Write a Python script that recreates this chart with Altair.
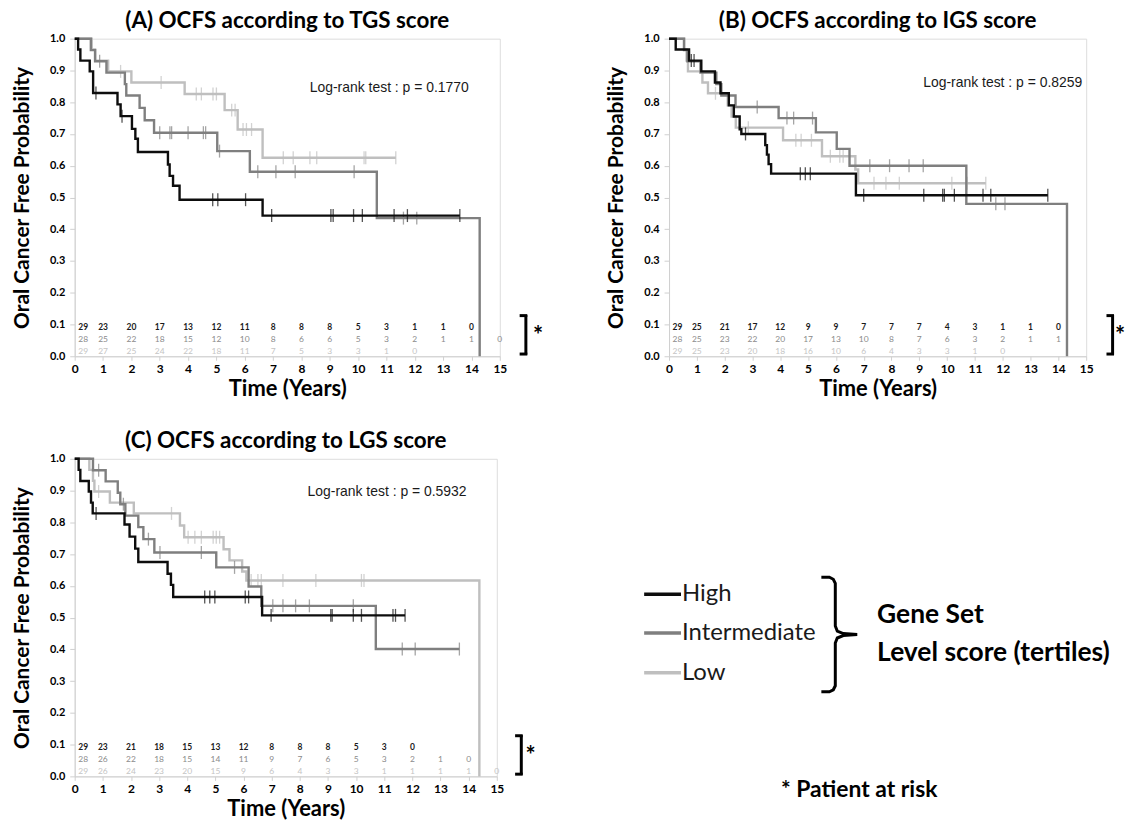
import altair as alt
import pandas as pd

# ---------------- data ----------------
GROUPS = ["High", "Intermediate", "Low"]
LINE_COLORS = ["#0d0d0d", "#7f7f7f", "#bfbfbf"]
RISK_COLORS = ["#1a1a1a", "#8a8a8a", "#c4c4c4"]

TITLES = ["(A) OCFS according to TGS score", "(B) OCFS according to IGS score", "(C) OCFS according to LGS score"]
PVALUES = ["0.1770", "0.8259", "0.5932"]

# Panel A (TGS): event times / survival after event / last follow-up / censor times
A_HIGH_T = [0, 0.12, 0.2, 0.53, 0.65, 1.51, 1.62, 2.02, 2.14, 2.23, 3.29, 3.35, 3.47, 3.70, 6.63]
A_HIGH_S = [1.0, 0.966, 0.931, 0.897, 0.829, 0.793, 0.756, 0.716, 0.685, 0.643, 0.604, 0.568, 0.537, 0.493, 0.443]
A_HIGH_END = 13.59
A_HIGH_C = [0.75, 1.67, 4.87, 5.05, 6.03, 6.95, 9.04, 9.12, 9.84, 10.15, 11.27, 11.74, 13.59]

A_MID_T = [0, 0.57, 0.72, 1.12, 1.77, 1.82, 2.29, 2.47, 2.80, 5.03, 6.18, 10.66, 14.29]
A_MID_S = [1.0, 0.964, 0.929, 0.893, 0.857, 0.821, 0.782, 0.743, 0.704, 0.646, 0.581, 0.435, 0.0]
A_MID_END = None
A_MID_C = [0.88, 3.0, 3.36, 3.42, 4.0, 4.54, 4.62, 5.11, 6.46, 7.1, 7.78, 9.86, 11.6, 12.07]

A_LOW_T = [0, 0.6, 0.72, 1.18, 2.0, 3.88, 5.29, 5.75, 6.63]
A_LOW_S = [1.0, 0.966, 0.931, 0.897, 0.862, 0.826, 0.775, 0.714, 0.625]
A_LOW_END = 11.33
A_LOW_C = [1.62, 3.05, 4.29, 4.47, 4.88, 5.0, 5.54, 5.66, 5.94, 6.06, 6.24, 7.36, 7.71, 8.3, 8.54, 10.21, 10.27, 11.33]

# Panel B (IGS)
B_HIGH_T = [0, 0.24, 0.72, 1.16, 1.65, 1.85, 2.15, 2.33, 2.54, 2.6, 3.46, 3.52, 3.58, 3.67, 6.72]
B_HIGH_S = [1.0, 0.966, 0.931, 0.897, 0.862, 0.828, 0.79, 0.755, 0.715, 0.70, 0.665, 0.635, 0.605, 0.575, 0.507]
B_HIGH_END = 13.62
B_HIGH_C = [0.8, 0.9, 2.75, 4.72, 4.9, 5.08, 7.0, 9.16, 9.84, 9.9, 10.26, 11.29, 11.57, 13.62]

B_MID_T = [0, 0.54, 0.66, 1.13, 1.70, 1.88, 2.39, 3.94, 5.28, 6.03, 6.49, 10.69, 14.31]
B_MID_S = [1.0, 0.964, 0.929, 0.893, 0.857, 0.821, 0.785, 0.75, 0.705, 0.653, 0.60, 0.48, 0.0]
B_MID_END = None
B_MID_C = [3.17, 4.24, 4.48, 5.16, 7.22, 7.93, 8.63, 9.14, 11.75, 12.08]

B_LOW_T = [0, 0.54, 0.63, 0.68, 1.2, 1.4, 2.11, 2.25, 2.4, 4.1, 5.5, 6.7, 6.8]
B_LOW_S = [1.0, 0.966, 0.931, 0.897, 0.862, 0.828, 0.79, 0.755, 0.72, 0.68, 0.63, 0.588, 0.545]
B_LOW_END = 11.39
B_LOW_C = [1.67, 2.85, 4.56, 4.75, 5.12, 5.8, 6.14, 6.26, 7.37, 7.8, 8.28, 10.17, 10.72, 11.39]

# Panel C (LGS)
C_HIGH_T = [0, 0.14, 0.2, 0.5, 0.58, 0.64, 1.77, 1.95, 2.15, 2.26, 3.3, 3.42, 3.5, 6.66]
C_HIGH_S = [1.0, 0.965, 0.93, 0.897, 0.862, 0.828, 0.793, 0.755, 0.717, 0.675, 0.638, 0.603, 0.565, 0.507]
C_HIGH_END = 11.74
C_HIGH_C = [0.76, 4.62, 4.8, 4.98, 6.06, 6.18, 6.98, 9.1, 9.15, 9.9, 10.19, 11.31, 11.4, 11.74]

C_MID_T = [0, 0.65, 1.1, 1.53, 1.62, 1.8, 2.26, 2.44, 2.83, 5.03, 6.18, 6.63, 10.7]
C_MID_S = [1.0, 0.964, 0.929, 0.893, 0.857, 0.821, 0.785, 0.747, 0.705, 0.658, 0.598, 0.537, 0.401]
C_MID_END = 13.67
C_MID_C = [0.85, 1.73, 2.62, 3.03, 4.5, 5.68, 7.04, 7.4, 7.85, 8.34, 9.9, 11.64, 12.1, 13.67]

C_LOW_T = [0, 0.52, 0.65, 0.7, 1.25, 2.1, 3.74, 3.89, 5.29, 5.5, 5.95, 6.1, 14.38]
C_LOW_S = [1.0, 0.965, 0.931, 0.897, 0.862, 0.828, 0.79, 0.753, 0.715, 0.68, 0.645, 0.617, 0.0]
C_LOW_END = None
C_LOW_C = [0.85, 3.44, 4.03, 4.27, 4.5, 4.92, 5.03, 5.15, 6.27, 6.51, 6.63, 7.4, 8.57, 10.19, 10.28]

# Patients at risk at years 0, 1, 2, ...
A_RISK = [[29, 23, 20, 17, 13, 12, 11, 8, 8, 8, 5, 3, 1, 1, 0],
          [28, 25, 22, 18, 15, 12, 10, 8, 6, 6, 5, 3, 2, 1, 1, 0],
          [29, 27, 25, 24, 22, 18, 11, 7, 5, 3, 3, 1, 0]]
B_RISK = [[29, 25, 21, 17, 12, 9, 9, 7, 7, 7, 4, 3, 1, 1, 0],
          [28, 25, 23, 22, 20, 17, 13, 10, 8, 7, 6, 3, 2, 1, 1],
          [29, 25, 23, 20, 18, 16, 10, 6, 4, 3, 3, 1, 0]]
C_RISK = [[29, 23, 21, 18, 15, 13, 12, 8, 8, 8, 5, 3, 0],
          [28, 26, 22, 18, 15, 14, 11, 9, 7, 6, 5, 3, 2, 1, 0],
          [29, 26, 24, 23, 20, 15, 9, 6, 4, 3, 3, 1, 1, 1, 1, 0]]

X_TICKS = list(range(16))
Y_TICKS = [round(i / 10, 1) for i in range(11)]

# ---------------- layout / style ----------------
CAL = "Lato"
ARIAL = "Liberation Sans"
RISK_ROWS = [0.092, 0.055, 0.018]
LOGRANK_POS = [(11.1, 0.845), (12.0, 0.86), (11.1, 0.895)]
BRACKET_X = [(15.7, 15.92, 16.35), (15.73, 15.95, 16.22), (15.65, 15.87, 16.2)]
PANEL_W = [427, 419, 424]
PANEL_H = 319


def step_rows(group, times, surv, end):
    rows = [dict(group=group, t=t, s=s) for t, s in zip(times, surv)]
    if end is not None and end > times[-1]:
        rows.append(dict(group=group, t=end, s=surv[-1]))
    return rows


def surv_at(times, surv, c):
    val = surv[0]
    for t, s in zip(times, surv):
        if t <= c:
            val = s
    return val


XS = alt.Scale(domain=[0, 15], nice=False, zero=False)
YS = alt.Scale(domain=[0, 1], nice=False, zero=False)
CS = alt.Scale(domain=GROUPS, range=LINE_COLORS)
XAXIS = alt.Axis(values=X_TICKS, title="Time (Years)", labelFont=CAL, labelFontWeight="bold",
                 labelFontSize=12, labelColor="#000", titleFont=CAL, titleFontSize=22,
                 titleFontWeight="bold", titleColor="#000", domainColor="#d0d0d0",
                 tickColor="#d0d0d0", tickSize=4, grid=False, labelPadding=3, titlePadding=4,
                 labelFlush=False, labelOverlap=False)
YAXIS = alt.Axis(values=Y_TICKS, format=".1f", title="Oral Cancer Free Probability",
                 labelFont=CAL, labelFontWeight="bold", labelFontSize=11, labelColor="#000",
                 titleFont=CAL, titleFontSize=21, titleFontWeight="bold", titleColor="#000",
                 domainColor="#d0d0d0", tickColor="#d0d0d0", tickSize=5, grid=False,
                 labelPadding=5, titlePadding=17, labelOverlap=False, labelFlush=False)


def X(field):
    return alt.X(field, scale=XS, axis=XAXIS)


def Y(field):
    return alt.Y(field, scale=YS, axis=YAXIS)


def km_panel(idx, curves, risk):
    layers = []
    for gi in [2, 1, 0]:
        g = GROUPS[gi]
        times, surv, end, cens = curves[gi]
        df = pd.DataFrame(step_rows(g, times, surv, end))
        layers.append(alt.Chart(df).mark_line(interpolate="step-after", strokeWidth=2.4).encode(
            x=X("t:Q"), y=Y("s:Q"),
            color=alt.Color("group:N", scale=CS, legend=None),
            order="t:Q"))
        cdf = pd.DataFrame([dict(group=g, t=c, s=surv_at(times, surv, c)) for c in cens])
        layers.append(alt.Chart(cdf).mark_tick(orient="vertical", size=13, thickness=1.3).encode(
            x=X("t:Q"), y=Y("s:Q"),
            color=alt.Color("group:N", scale=CS, legend=None)))
    # at-risk numbers
    for gi in range(3):
        rdf = pd.DataFrame([dict(t=(i if i > 0 else 0.3), s=RISK_ROWS[gi], n=str(v))
                            for i, v in enumerate(risk[gi])])
        layers.append(alt.Chart(rdf).mark_text(fontSize=8.5, font=CAL, color=RISK_COLORS[gi],
                                               fontWeight="bold" if gi == 0 else "normal",
                                               baseline="middle", align="center").encode(
            x=X("t:Q"), y=Y("s:Q"), text="n:N"))
    lx, ly = LOGRANK_POS[idx]
    ldf = pd.DataFrame([dict(t=lx, s=ly, label="Log-rank test : p = " + PVALUES[idx])])
    layers.append(alt.Chart(ldf).mark_text(font=ARIAL, fontSize=14, color="#1a1a1a").encode(
        x=X("t:Q"), y=Y("s:Q"), text="label:N"))
    # bracket for patients at risk
    bx0, bx1, sx = BRACKET_X[idx]
    vdf = pd.DataFrame([dict(t=bx1, s=0.005, s2=0.13)])
    layers.append(alt.Chart(vdf).mark_rule(strokeWidth=3, color="#000", clip=False).encode(
        x=X("t:Q"), y=Y("s:Q"), y2="s2:Q"))
    hdf = pd.DataFrame([dict(t=bx0, t2=bx1 + 0.05, s=0.007), dict(t=bx0, t2=bx1 + 0.05, s=0.128)])
    layers.append(alt.Chart(hdf).mark_rule(strokeWidth=3, color="#000", clip=False).encode(
        x=X("t:Q"), x2="t2:Q", y=Y("s:Q")))
    sdf = pd.DataFrame([dict(t=sx, s=0.06, label="*")])
    layers.append(alt.Chart(sdf).mark_text(font=CAL, fontSize=24, fontWeight="bold", color="#000",
                                           clip=False).encode(
        x=X("t:Q"), y=Y("s:Q"), text="label:N"))
    return alt.layer(*layers).properties(
        width=PANEL_W[idx], height=PANEL_H,
        title=alt.TitleParams(TITLES[idx], font=CAL, fontSize=22.5, fontWeight="bold", color="#000",
                              anchor="middle", frame="group", offset=0))


panel_a = km_panel(0, [(A_HIGH_T, A_HIGH_S, A_HIGH_END, A_HIGH_C),
                       (A_MID_T, A_MID_S, A_MID_END, A_MID_C),
                       (A_LOW_T, A_LOW_S, A_LOW_END, A_LOW_C)], A_RISK)
panel_b = km_panel(1, [(B_HIGH_T, B_HIGH_S, B_HIGH_END, B_HIGH_C),
                       (B_MID_T, B_MID_S, B_MID_END, B_MID_C),
                       (B_LOW_T, B_LOW_S, B_LOW_END, B_LOW_C)], B_RISK)
panel_c = km_panel(2, [(C_HIGH_T, C_HIGH_S, C_HIGH_END, C_HIGH_C),
                       (C_MID_T, C_MID_S, C_MID_END, C_MID_C),
                       (C_LOW_T, C_LOW_S, C_LOW_END, C_LOW_C)], C_RISK)

# ---------------- legend panel (local pixel layout) ----------------
LW, LH = 480, PANEL_H
lxs = alt.Scale(domain=[0, LW], nice=False, zero=False)
lys = alt.Scale(domain=[0, LH], nice=False, zero=False, reverse=True)
LEG_Y = [136, 175, 215]
leg_lines = pd.DataFrame([dict(group=g, x=26, x2=63, y=y) for g, y in zip(GROUPS, LEG_Y)])
leg_text = pd.DataFrame([dict(group=g, x=64, y=y, label=g) for g, y in zip(GROUPS, LEG_Y)])
BRACE_X = [204, 212, 216, 218, 218, 220, 226, 240, 226, 220, 218, 218, 216, 212, 204]
BRACE_Y = [119, 119, 121, 125, 168, 173, 175.5, 176.5, 177.5, 180, 185, 228, 232, 234, 234]
brace = pd.DataFrame(dict(x=BRACE_X, y=BRACE_Y, o=list(range(len(BRACE_X)))))
notes = pd.DataFrame([dict(x=260, y=157, label="Gene Set"),
                      dict(x=260, y=195, label="Level score (tertiles)")])
star = pd.DataFrame([dict(x=242, y=333, label="* Patient at risk")])

LX = lambda f: alt.X(f, scale=lxs, axis=None)
LY = lambda f: alt.Y(f, scale=lys, axis=None)
leg_layers = [
    alt.Chart(leg_lines).mark_rule(strokeWidth=3.5).encode(
        x=LX("x:Q"), x2="x2:Q", y=LY("y:Q"),
        color=alt.Color("group:N", scale=CS, legend=None)),
    alt.Chart(leg_text).mark_text(font=CAL, fontSize=24, align="left", baseline="middle",
                                  color="#1a1a1a").encode(
        x=LX("x:Q"), y=LY("y:Q"), text="label:N"),
    alt.Chart(brace).mark_line(strokeWidth=3, color="#000").encode(
        x=LX("x:Q"), y=LY("y:Q"), order="o:Q"),
    alt.Chart(notes).mark_text(font=CAL, fontSize=26.5, fontWeight="bold", align="left",
                               baseline="middle", color="#000").encode(
        x=LX("x:Q"), y=LY("y:Q"), text="label:N"),
    alt.Chart(star).mark_text(font=CAL, fontSize=23, fontWeight="bold", align="center",
                              baseline="middle", color="#000", clip=False).encode(
        x=LX("x:Q"), y=LY("y:Q"), text="label:N"),
]
legend_panel = alt.layer(*leg_layers).properties(
    width=LW, height=LH, view=alt.ViewBackground(stroke="transparent", strokeWidth=0))

row1 = alt.hconcat(panel_a, panel_b, spacing=61)
row2 = alt.hconcat(panel_c, legend_panel, spacing=82)
chart = alt.vconcat(row1, row2, spacing=30).properties(
    padding={"left": 3, "top": 0, "right": 0, "bottom": 0}
).configure_view(stroke="transparent", strokeWidth=0).configure(background="white")

chart.save("out.html", embed_options={"renderer": "svg", "actions": False})
